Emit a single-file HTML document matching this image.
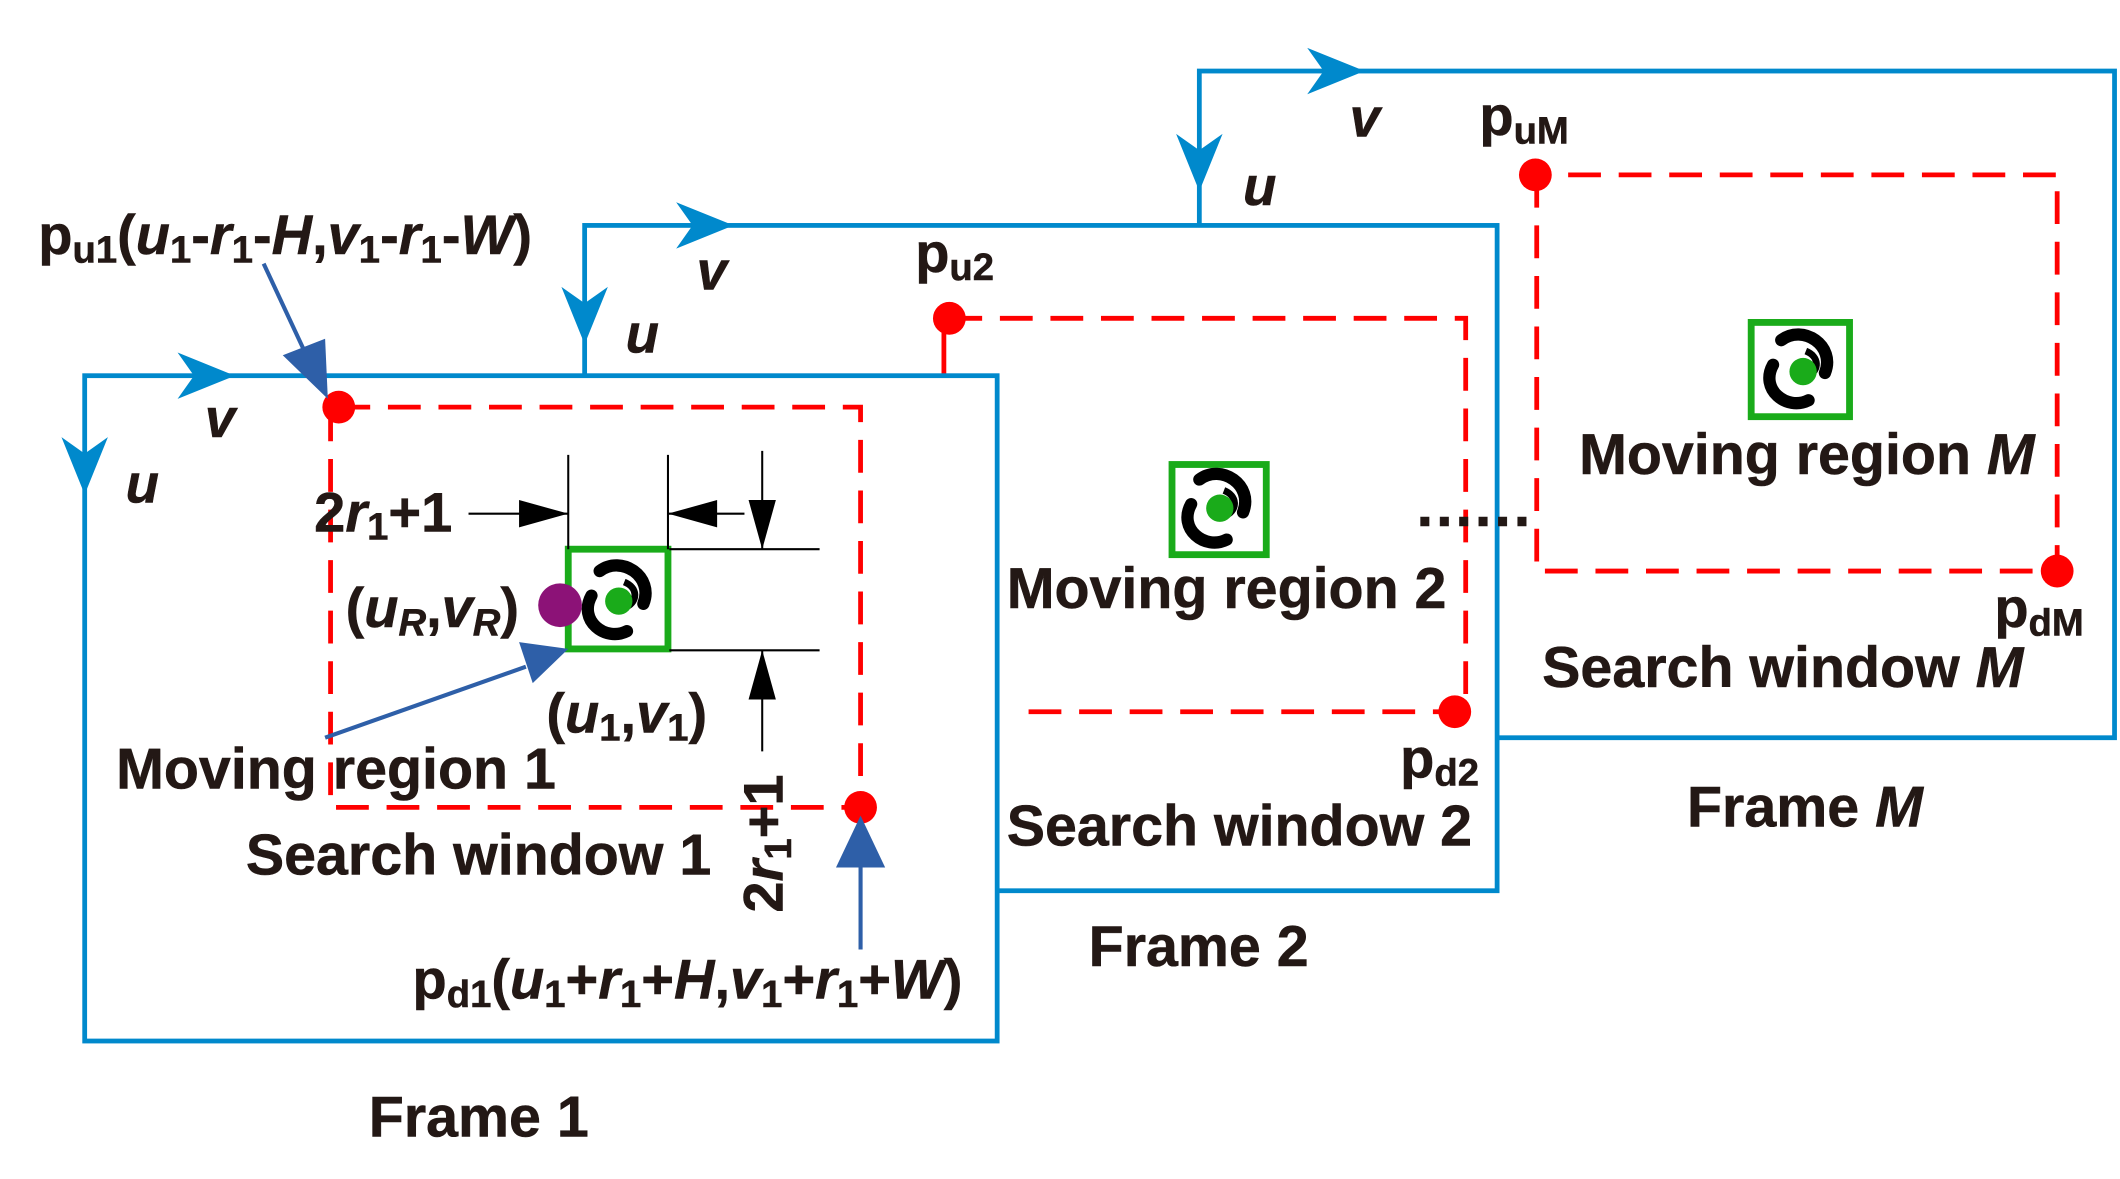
<!DOCTYPE html>
<html><head><meta charset="utf-8"><style>
html,body{margin:0;padding:0;background:#fff;}
svg{display:block;}
text{font-family:"Liberation Sans",Arial,sans-serif;font-weight:bold;fill:#231815;stroke:#231815;stroke-width:0.4px;}
</style></head><body>
<svg width="2120" height="1179" viewBox="0 0 1552 863" preserveAspectRatio="none" xmlns="http://www.w3.org/2000/svg">
<defs>
<g id="blob">
<path d="M-14,-22 C2,-34 26,-18 18,2" stroke="#000" stroke-width="9" fill="none" stroke-linecap="round"/>
<path d="M-20,-4 C-30,14 -10,30 6,22" stroke="#000" stroke-width="9" fill="none" stroke-linecap="round"/>
<path d="M4,-14 C14,-10 14,0 6,4" stroke="#000" stroke-width="5" fill="none"/>
</g>
</defs>
<rect width="1552" height="863" fill="#fff"/>
<!-- Frame M -->
<rect x="878" y="52" width="670" height="488" fill="#fff" stroke="#0089cc" stroke-width="3.5"/>
<path d="M1125,128 V418 H1506 V128 H1125" fill="none" stroke="#f00" stroke-width="3.5" stroke-dasharray="24,13"/>
<circle cx="1124" cy="128" r="12" fill="#f00"/>
<circle cx="1506" cy="418" r="12" fill="#f00"/>
<!-- Frame 2 -->
<rect x="428" y="165" width="668" height="487" fill="#fff" stroke="#0089cc" stroke-width="3.5"/>
<path d="M695,233 H1073 V521 H740" fill="none" stroke="#f00" stroke-width="3.5" stroke-dasharray="24,13"/>
<line x1="691" y1="233" x2="691" y2="275" stroke="#f00" stroke-width="3.5"/>
<circle cx="695" cy="233" r="12" fill="#f00"/>
<circle cx="1065" cy="521" r="12" fill="#f00"/>
<!-- Frame 1 -->
<rect x="62" y="275" width="668" height="487" fill="#fff" stroke="#0089cc" stroke-width="3.5"/>
<path d="M247,298 H630 V591 H242 V298" fill="none" stroke="#f00" stroke-width="3.5" stroke-dasharray="24,13"/>
<circle cx="248" cy="298" r="12" fill="#f00"/>
<circle cx="630" cy="591" r="12" fill="#f00"/>
<text x="1037" y="385" style="font-size:44px;letter-spacing:2px">......</text>
<g fill="#0089cc">
<path d="M130,258 L172,275 L130,292 L142,275 Z"/>
<path d="M45,320 L62,362 L79,320 L62,332 Z"/>
<path d="M495,148 L537,165 L495,182 L507,165 Z"/>
<path d="M411,210 L428,252 L445,210 L428,222 Z"/>
<path d="M957,35 L999,52 L957,69 L969,52 Z"/>
<path d="M861,98 L878,140 L895,98 L878,110 Z"/>
</g>
<text x="150" y="320" style="font-size:40px;font-style:italic">v</text>
<text x="92" y="368" style="font-size:40px;font-style:italic">u</text>
<text x="510" y="212" style="font-size:40px;font-style:italic">v</text>
<text x="458" y="258" style="font-size:40px;font-style:italic">u</text>
<text x="988" y="100" style="font-size:40px;font-style:italic">v</text>
<text x="910" y="150" style="font-size:40px;font-style:italic">u</text>
<rect x="416" y="402" width="73" height="73" fill="#fff" stroke="#1aab1a" stroke-width="5"/>
<use href="#blob" x="453" y="440"/>
<circle cx="453" cy="440" r="10" fill="#1aab1a"/>
<circle cx="410" cy="443" r="16" fill="#8c1277"/>
<rect x="858" y="340" width="69" height="66" fill="#fff" stroke="#1aab1a" stroke-width="5"/>
<use href="#blob" x="892" y="373"/>
<circle cx="893" cy="372" r="10" fill="#1aab1a"/>
<rect x="1282" y="236" width="72" height="69" fill="#fff" stroke="#1aab1a" stroke-width="5"/>
<use href="#blob" x="1318" y="271"/>
<circle cx="1320" cy="272" r="10" fill="#1aab1a"/>
<g stroke="#000" stroke-width="1.5" fill="none">
<line x1="416" y1="333" x2="416" y2="402"/>
<line x1="489" y1="333" x2="489" y2="402"/>
<line x1="343" y1="376" x2="416" y2="376"/>
<line x1="489" y1="376" x2="545" y2="376"/>
<line x1="558" y1="330" x2="558" y2="402"/>
<line x1="490" y1="402" x2="600" y2="402"/>
<line x1="490" y1="476" x2="600" y2="476"/>
<line x1="558" y1="476" x2="558" y2="550"/>
</g>
<g fill="#000">
<path d="M416,376 L380,366 L380,386 Z"/>
<path d="M489,376 L525,366 L525,386 Z"/>
<path d="M558,402 L548,366 L568,366 Z"/>
<path d="M558,476 L548,512 L568,512 Z"/>
</g>
<g stroke="#2e5fa8" stroke-width="3" fill="none">
<line x1="193" y1="193" x2="228" y2="268"/>
<line x1="238" y1="540" x2="385" y2="488"/>
<line x1="630" y1="695" x2="630" y2="625"/>
</g>
<g fill="#2e5fa8">
<path d="M240,292 L207,260 L238,248 Z"/>
<path d="M416,475 L380,470 L390,500 Z"/>
<path d="M630,597 L612,635 L648,635 Z"/>
</g>
<text x="28" y="186" style="font-size:41px">p<tspan style="font-size:28px" dy="6">u1</tspan><tspan dy="-6">(</tspan><tspan font-style="italic">u</tspan><tspan style="font-size:28px" dy="6">1</tspan><tspan dy="-6">-</tspan><tspan font-style="italic">r</tspan><tspan style="font-size:28px" dy="6">1</tspan><tspan dy="-6">-</tspan><tspan font-style="italic">H</tspan>,<tspan font-style="italic">v</tspan><tspan style="font-size:28px" dy="6">1</tspan><tspan dy="-6">-</tspan><tspan font-style="italic">r</tspan><tspan style="font-size:28px" dy="6">1</tspan><tspan dy="-6">-</tspan><tspan font-style="italic">W</tspan>)</text>
<text x="230" y="389" style="font-size:41px">2<tspan font-style="italic">r</tspan><tspan style="font-size:28px" dy="6">1</tspan><tspan dy="-6">+1</tspan></text>
<text x="253" y="459" style="font-size:41px">(<tspan font-style="italic">u</tspan><tspan style="font-size:28px;font-style:italic" dy="6">R</tspan><tspan dy="-6">,</tspan><tspan font-style="italic">v</tspan><tspan style="font-size:28px;font-style:italic" dy="6">R</tspan><tspan dy="-6">)</tspan></text>
<text x="400" y="536" style="font-size:41px">(<tspan font-style="italic">u</tspan><tspan style="font-size:28px" dy="6">1</tspan><tspan dy="-6">,</tspan><tspan font-style="italic">v</tspan><tspan style="font-size:28px" dy="6">1</tspan><tspan dy="-6">)</tspan></text>
<text x="85" y="577" style="font-size:42px">Moving region 1</text>
<text x="180" y="640" style="font-size:42px">Search window 1</text>
<text transform="translate(573,668) rotate(-90)" style="font-size:41px">2<tspan font-style="italic">r</tspan><tspan style="font-size:28px" dy="6">1</tspan><tspan dy="-6">+1</tspan></text>
<text x="302" y="731" style="font-size:41px">p<tspan style="font-size:28px" dy="6">d1</tspan><tspan dy="-6">(</tspan><tspan font-style="italic">u</tspan><tspan style="font-size:28px" dy="6">1</tspan><tspan dy="-6">+</tspan><tspan font-style="italic">r</tspan><tspan style="font-size:28px" dy="6">1</tspan><tspan dy="-6">+</tspan><tspan font-style="italic">H</tspan>,<tspan font-style="italic">v</tspan><tspan style="font-size:28px" dy="6">1</tspan><tspan dy="-6">+</tspan><tspan font-style="italic">r</tspan><tspan style="font-size:28px" dy="6">1</tspan><tspan dy="-6">+</tspan><tspan font-style="italic">W</tspan>)</text>
<text x="270" y="832" style="font-size:42px">Frame 1</text>
<text x="670" y="199" style="font-size:41px">p<tspan style="font-size:28px" dy="6">u2</tspan></text>
<text x="737" y="445" style="font-size:42px">Moving region 2</text>
<text x="1025" y="569" style="font-size:41px">p<tspan style="font-size:28px" dy="6">d2</tspan></text>
<text x="737" y="619" style="font-size:42px">Search window 2</text>
<text x="797" y="707" style="font-size:42px">Frame 2</text>
<text x="1083" y="99" style="font-size:41px">p<tspan style="font-size:28px" dy="6">uM</tspan></text>
<text x="1156" y="347" style="font-size:42px">Moving region <tspan font-style="italic">M</tspan></text>
<text x="1460" y="459" style="font-size:41px">p<tspan style="font-size:28px" dy="6">dM</tspan></text>
<text x="1129" y="503" style="font-size:42px">Search window <tspan font-style="italic">M</tspan></text>
<text x="1235" y="605" style="font-size:42px">Frame <tspan font-style="italic">M</tspan></text>
</svg>
</body></html>
